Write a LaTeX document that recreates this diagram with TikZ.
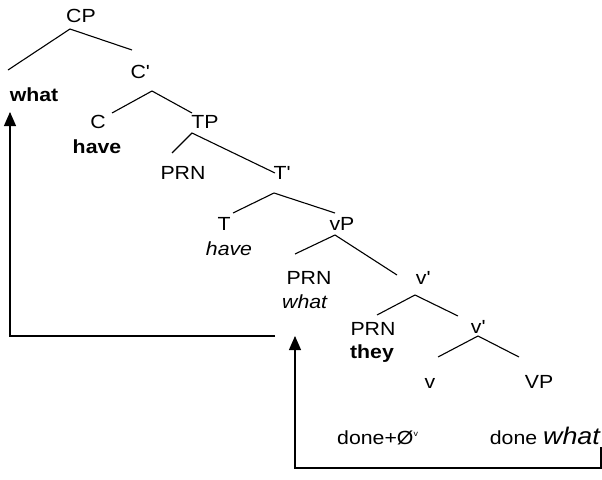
\documentclass[tikz,border=0pt]{standalone}
\usepackage{fontspec}
\setmainfont{Liberation Sans}[FakeStretch=1.12]
\usepackage{tikz}
\usetikzlibrary{arrows.meta, positioning, calc}

\tikzset{
  lbl/.style={font=\fontsize{19}{22}\selectfont, inner sep=0pt, anchor=base},
  branch/.style={line width=1.1pt},
  movearrow/.style={-{Triangle[length=14pt,width=12pt]}, line width=1.1pt}
}

\begin{document}
\begin{tikzpicture}[x=1pt, y=-1pt]
\useasboundingbox (0,0) rectangle (602,479);

%// labels of the tree, at their baselines
\foreach \n/\x/\y/\txt in {cp/81/23/CP, cbar/140/78/C\textquotesingle, what/34/101/\textbf{what},
    c/98/128/C, have/97/153/\textbf{have}, tp/205/128/TP, prnA/183/179/PRN,
    tbar/282/179/T\textquotesingle, t/224/230/T, haveT/229/255/\textit{have}, vp/342/230/vP,
    prnB/309/284/PRN, whatV/305/308/\textit{what}, vbarA/423/284/v\textquotesingle,
    prnC/373/335/PRN, they/372/358/\textbf{they}, vbarB/478/333/v\textquotesingle,
    v/430/388/v, vpbig/539/388/VP}
\node [lbl] (\n) at (\x,\y) {\txt};

\node [lbl, anchor=base west] (doneV) at (337,444) {done+Ø\raisebox{8pt}{\fontsize{8}{8}\selectfont v}};
\node [lbl, anchor=base east] (doneW) at (601,444) {done \textit{\fontsize{24}{26}\selectfont what}};

%// branches: left end / top / right end
\foreach \n/\lx/\ly/\ax/\ay/\rx/\ry in {cp/8/70/70/29/132/50, cbar/112/113/152/91/192/113,
    tp/172/153/192/133/275/173, tbar/233/213/274/193/335/213, vp/295/254/335/235/397/275,
    vbarA/377/315/415/295/458/316, vbarB/438/357/478/336/519/357}
{
\coordinate (\n-l) at (\lx,\ly);
\coordinate (\n-a) at (\ax,\ay);
\coordinate (\n-r) at (\rx,\ry);
\draw [branch] (\n-l) -- (\n-a) -- (\n-r);
}

%// movement arrows
\coordinate (srcA) at (601,447);
\coordinate (lowA) at (295,468);
\coordinate (tipA) at (295,336);
\draw [movearrow] (srcA) |- (lowA) -- (tipA);

\coordinate (srcB) at (275,336);
\coordinate (tipB) at (10,112);
\draw [movearrow] (srcB) -| (tipB);
\end{tikzpicture}
\end{document}
